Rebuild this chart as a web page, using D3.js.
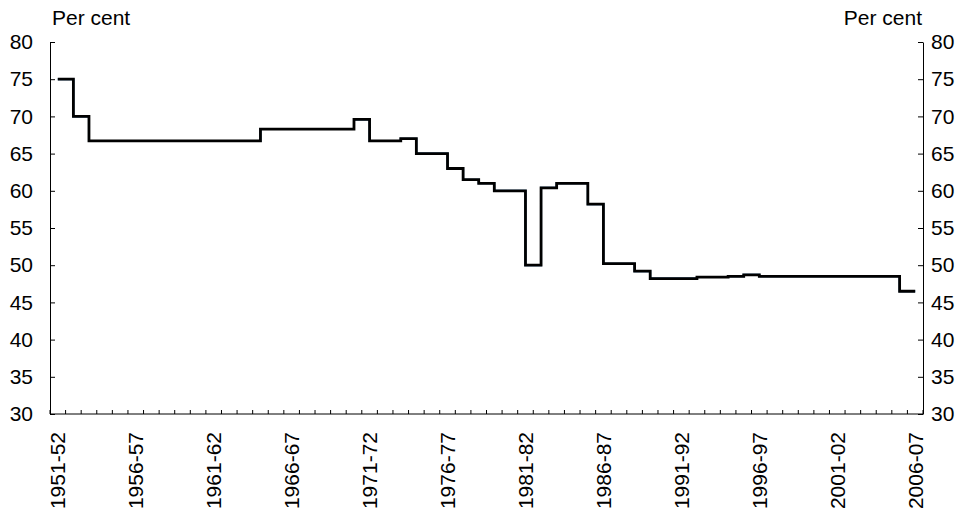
<!DOCTYPE html>
<html lang="en">
<head>
  <meta charset="UTF-8">
  <title>Per cent step chart</title>
  <script src="https://cdn.jsdelivr.net/npm/d3@7"></script>
  <style>
    body { margin: 0; background: #fff; }
    text { font-family: "Liberation Sans", Arial, sans-serif; fill: #000; }
    .axis path, .axis line { stroke: #000; }
  </style>
</head>
<body>
  <div id="chart"></div>
  <script>
    // Financial years, one per step
    const categories = [
      '1951-52','1952-53','1953-54','1954-55','1955-56','1956-57','1957-58','1958-59',
      '1959-60','1960-61','1961-62','1962-63','1963-64','1964-65','1965-66','1966-67',
      '1967-68','1968-69','1969-70','1970-71','1971-72','1972-73','1973-74','1974-75',
      '1975-76','1976-77','1977-78','1978-79','1979-80','1980-81','1981-82','1982-83',
      '1983-84','1984-85','1985-86','1986-87','1987-88','1988-89','1989-90','1990-91',
      '1991-92','1992-93','1993-94','1994-95','1995-96','1996-97','1997-98','1998-99',
      '1999-00','2000-01','2001-02','2002-03','2003-04','2004-05','2005-06','2006-07'
    ];

    // Per cent
    const rateValues = [
      75, 70,
      66.7, 66.7, 66.7, 66.7, 66.7, 66.7, 66.7, 66.7, 66.7, 66.7, 66.7,
      68.3, 68.3, 68.3, 68.3, 68.3, 68.3,
      69.6, 66.7, 66.7, 67.0, 65, 65, 63, 61.5, 61, 60, 60,
      50, 60.4, 61, 61, 58.2, 50.2, 50.2, 49.2,
      48.2, 48.2, 48.2, 48.4, 48.4, 48.5, 48.7,
      48.5, 48.5, 48.5, 48.5, 48.5, 48.5, 48.5, 48.5, 48.5,
      46.5, 46.5
    ];

    const yTicks = [30, 35, 40, 45, 50, 55, 60, 65, 70, 75, 80];
    const labelEvery = 5;
    const fontSize = '21px';

    const width = 964, height = 512;
    const margin = { top: 42, right: 41, bottom: 98, left: 50 };
    const innerW = width - margin.left - margin.right;
    const innerH = height - margin.top - margin.bottom;

    const svg = d3.select('#chart').append('svg')
      .attr('width', width)
      .attr('height', height);

    const g = svg.append('g')
      .attr('transform', `translate(${margin.left},${margin.top})`);

    const x = d3.scaleBand().domain(categories).range([0, innerW]).padding(0);
    const y = d3.scaleLinear().domain([30, 80]).range([innerH, 0]);

    // left axis
    const left = g.append('g').attr('class', 'axis')
      .call(d3.axisLeft(y).tickValues(yTicks).tickSizeInner(-5).tickSizeOuter(0).tickPadding(17));
    left.selectAll('text').style('font-size', fontSize);

    // right axis
    const right = g.append('g').attr('class', 'axis')
      .attr('transform', `translate(${innerW},0)`)
      .call(d3.axisRight(y).tickValues(yTicks).tickSizeInner(-5).tickSizeOuter(0).tickPadding(8));
    right.selectAll('text').style('font-size', fontSize);

    // bottom axis: ticks on category boundaries
    const bottom = g.append('g').attr('class', 'axis')
      .attr('transform', `translate(0,${innerH})`);
    bottom.append('line')
      .attr('x1', 0).attr('x2', innerW)
      .attr('stroke', '#000');
    bottom.selectAll('.tick')
      .data(categories.concat(['end']))
      .enter().append('line')
        .attr('x1', (d, i) => i * x.bandwidth())
        .attr('x2', (d, i) => i * x.bandwidth())
        .attr('y1', 0).attr('y2', -4)
        .attr('stroke', '#000');
    bottom.selectAll('.lbl')
      .data(categories.filter((d, i) => i % labelEvery === 0))
      .enter().append('text')
        .attr('transform', d => `translate(${x(d) + x.bandwidth() / 2},18) rotate(-90)`)
        .attr('text-anchor', 'end')
        .attr('dy', '0.35em')
        .style('font-size', fontSize)
        .text(d => d);

    // unit labels
    svg.append('text')
      .attr('x', margin.left + 2).attr('y', 25)
      .style('font-size', fontSize)
      .text('Per cent');
    svg.append('text')
      .attr('x', margin.left + innerW - 1).attr('y', 25)
      .attr('text-anchor', 'end')
      .style('font-size', fontSize)
      .text('Per cent');

    const line = d3.line()
      .x((d, i) => x(categories[i]) + x.bandwidth() / 2)
      .y(d => y(d))
      .curve(d3.curveStepAfter);

    // blue series sits under the black one
    g.append('path')
      .datum(rateValues)
      .attr('fill', 'none')
      .attr('stroke', '#1f6fb4')
      .attr('stroke-width', 2)
      .attr('d', line);

    g.append('path')
      .datum(rateValues)
      .attr('fill', 'none')
      .attr('stroke', '#000')
      .attr('stroke-width', 2.8)
      .attr('d', line);
  </script>
</body>
</html>
